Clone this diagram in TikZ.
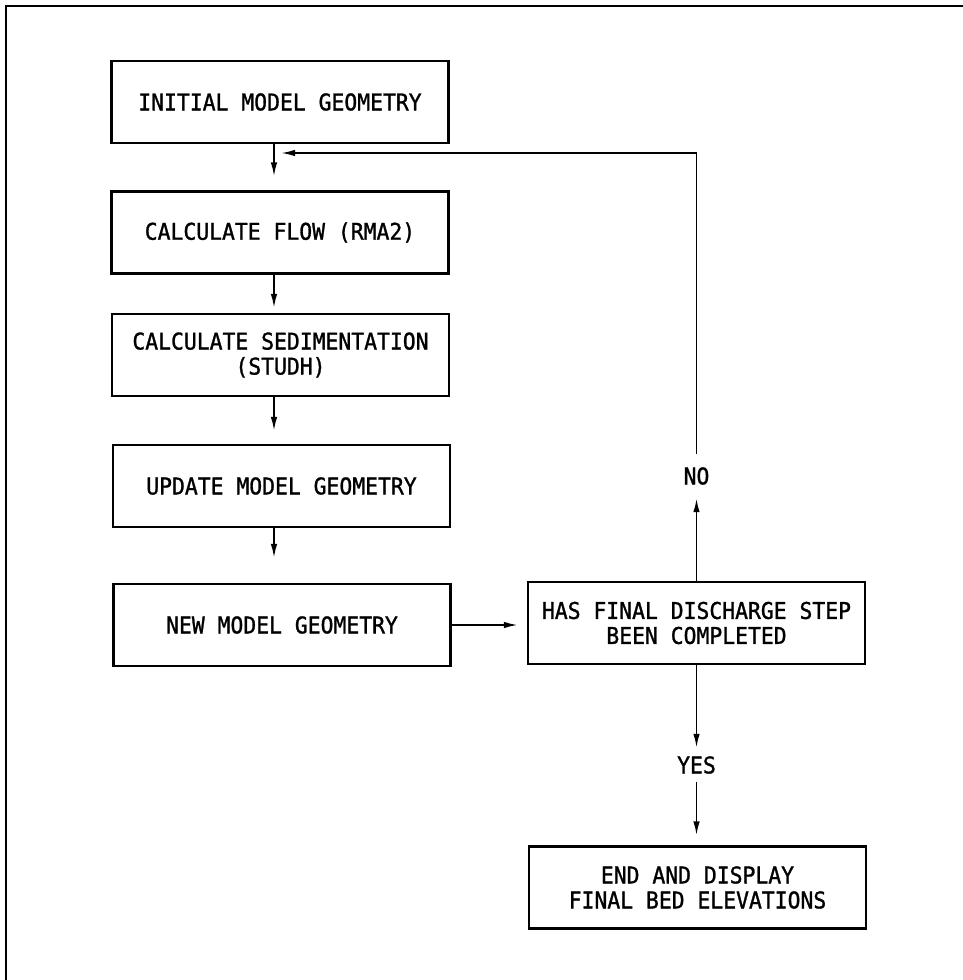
\documentclass[tikz,border=0pt]{standalone}
\usepackage{fontspec}
\usetikzlibrary{arrows.meta}
\newfontfamily\plotfont[FakeStretch=0.93,FakeBold=1.2]{DejaVu Sans Mono}
\begin{document}
\begin{tikzpicture}[x=1pt,y=-1pt,
  box/.style={draw, line width=2.2pt, minimum width=337pt, minimum height=82pt, inner sep=0pt, align=center, font=\plotfont\fontsize{23}{25}\selectfont},
  lbl/.style={inner sep=0pt, font=\plotfont\fontsize{23}{25}\selectfont},
  arr/.style={line width=1.8pt, -{Latex[length=14pt,width=6.5pt]}}]
\useasboundingbox (0,0) rectangle (963,980);
\draw[line width=2.2pt] (6,980) -- (6,6) -- (963,6);
\node[box] (b1) at (280,102) {INITIAL MODEL GEOMETRY};
\node[box] (b2) at (280,232.5) {CALCULATE FLOW (RMA2)};
\node[box] (b3) at (280.5,355) {CALCULATE SEDIMENTATION\\(STUDH)};
\node[box] (b4) at (281.5,486) {UPDATE MODEL GEOMETRY};
\node[box] (b5) at (282,625) {NEW MODEL GEOMETRY};
\node[box] (d) at (696.5,623) {HAS FINAL DISCHARGE STEP\\BEEN COMPLETED};
\node[box] (e) at (697.5,887.5) {END AND DISPLAY\\FINAL BED ELEVATIONS};
\node[lbl, minimum height=44pt] (no) at (696.5,476) {NO};
\node[lbl, minimum height=34pt] (yes) at (696.5,765) {YES};
\coordinate (join) at (281,153);
\coordinate (colx) at (274,0);
\draw[arr, shorten >=14pt] (b1.south -| colx) -- (b2.north -| colx);
\draw[arr, shorten >=5pt] (b2.south -| colx) -- (b3.north -| colx);
\draw[arr, shorten >=13pt] (b3.south -| colx) -- (b4.north -| colx);
\draw[arr, shorten >=25pt] (b4.south -| colx) -- (b5.north -| colx);
\draw[arr, shorten >=9pt] (b5.east) -- (b5.east -| d.west);
\draw[arr] (d.north) -- (no.south);
\draw[arr] (no.north) |- (join);
\draw[arr] (d.south) -- (yes.north);
\draw[arr, shorten >=10pt] (yes.south) -- (yes.south |- e.north);
\end{tikzpicture}
\end{document}
